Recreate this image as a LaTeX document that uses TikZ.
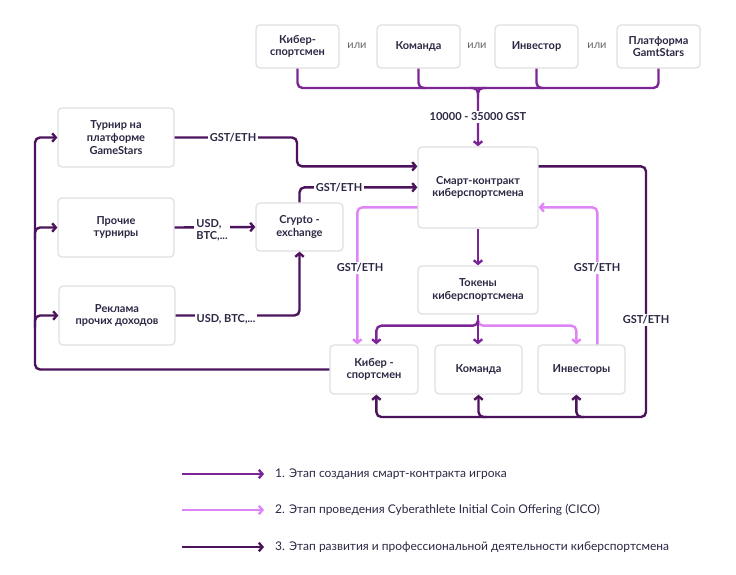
\documentclass[tikz,border=0pt]{standalone}
\usepackage{fontspec}
\setmainfont{Lato}
\usetikzlibrary{arrows.meta,calc}
\definecolor{cA}{RGB}{124,38,150}
\definecolor{cB}{RGB}{222,132,245}
\definecolor{cC}{RGB}{76,18,92}
\definecolor{txt}{RGB}{43,40,68}
\definecolor{bord}{RGB}{224,224,226}
\tikzset{
  box/.style={draw=bord, line width=1.3pt, fill=white, rounded corners=4pt, align=center,
     font=\fontsize{11}{12.7}\selectfont\bfseries, text=txt, inner sep=2pt},
  ar/.style={-{Straight Barb[length=3.6pt,width=8.5pt]}},
  sA/.style={draw=cA, line width=2.4pt, rounded corners=5pt},
  sB/.style={draw=cB, line width=2.4pt, rounded corners=5pt},
  sC/.style={draw=cC, line width=2.4pt, rounded corners=5pt},
  lbl/.style={fill=white, font=\fontsize{11}{12}\selectfont\bfseries, text=txt, inner sep=2pt, align=left},
  ili/.style={font=\fontsize{11}{12}\selectfont, text=black!60},
  leg/.style={anchor=west, font=\fontsize{12}{14}\selectfont, text=txt, inner sep=0pt}
}
\begin{document}
\begin{tikzpicture}[x=1pt,y=-1pt]
\useasboundingbox (0,0) rectangle (736,574);
% top row
\node[box, minimum width=83pt, minimum height=43pt] (k1) at (297.5,46.5) {Кибер-\\спортсмен};
\node[box, minimum width=83pt, minimum height=43pt] (k2) at (418.5,46.5) {Команда};
\node[box, minimum width=83pt, minimum height=43pt] (k3) at (536.5,46.5) {Инвестор};
\node[box, minimum width=83pt, minimum height=43pt] (k4) at (658.5,46.5) {Платформа\\GamtStars};
\node[ili] (o1) at (357,46) {или};
\node[ili] (o2) at (477,46) {или};
\node[ili] (o3) at (597,46) {или};
% left column
\node[box, minimum width=116pt, minimum height=59pt] (tur) at (116,137.5) {Турнир на\\платформе\\GameStars};
\node[box, minimum width=116pt, minimum height=59pt] (pro) at (116,227.5) {Прочие\\турниры};
\node[box, minimum width=116pt, minimum height=59pt] (rek) at (117,315.5) {Реклама\\прочих доходов};
\node[box, minimum width=87pt, minimum height=48pt] (cry) at (299.5,227) {Crypto -\\exchange};
% center
\node[box, minimum width=120pt, minimum height=81pt] (sc) at (478,187.5) {Смарт-контракт\\киберспортсмена};
\node[box, minimum width=120pt, minimum height=48pt] (tok) at (478,290) {Токены\\киберспортсмена};
\node[box, minimum width=88pt, minimum height=49pt] (kb) at (374,369.5) {Кибер -\\спортсмен};
\node[box, minimum width=87pt, minimum height=49pt] (km) at (478.5,369.5) {Команда};
\node[box, minimum width=87pt, minimum height=49pt] (inv) at (581.5,369.5) {Инвесторы};

\coordinate (brY) at (0,88);
\coordinate (bus) at (35,0);
\coordinate (loopC) at (646,417);

% stage 1 : bracket
\draw[sA] (k1.south) |- (k4.south |- brY) -- (k4.south);
\draw[sA] (k2.south) |- ($(k2.south |- brY)+(7,0)$);
\draw[sA] (k3.south) |- ($(k3.south |- brY)+(7,0)$);
\draw[sA,ar] ($(sc.north |- brY)+(-8,0)$) -| (sc.north);
\draw[sA] ($(sc.north |- brY)+(8,0)$) -| ($(sc.north |- brY)+(0,10)$);
% stage 1 : tokens
\draw[sB,ar] ($(tok.south)+(0,5)$) |- ($(tok.south)+(20,11)$) -| ($(inv.north west)+(39,0)$);
\draw[sA,ar] ($(tok.south)+(0,5)$) |- ($(tok.south)+(-20,11)$) -| ($(kb.north west)+(47,0)$);
\draw[sA,ar] (sc.south) -- (tok.north);
\draw[sA,ar] (tok.south) -- (tok.south |- km.north);

% stage 2
\draw[sB,ar] ($(sc.north west)+(0,61)$) -| ($(kb.north west)+(28,0)$);
\draw[sB,ar] ($(inv.north west)+(60,0)$) |- ($(sc.north east)+(0,61)$);

% stage 3
\draw[sC,ar] (kb.west) -| (bus |- tur.west) -- (tur.west);
\draw[sC,ar] ($(bus |- pro.west)+(0,12)$) |- (pro.west);
\draw[sC,ar] ($(bus |- rek.west)+(0,12)$) |- (rek.west);
\draw[sC,ar] (tur.east) -| (297,152) |- ($(sc.north west)+(0,20)$);
\draw[sC,ar] (pro.east) -- (cry.west);
\draw[sC,ar] (rek.east) -| (cry.south);
\draw[sC,ar] (cry.north) |- ($(sc.north west)+(0,41)$);
\draw[sC,ar] ($(sc.north east)+(0,20)$) -| (loopC) -| ($(kb.south west)+(47,0)$);
\draw[sC,ar] ($(km.south |- loopC)+(8,0)$) -| (km.south);
\draw[sC,ar] ($(inv.south west |- loopC)+(47,0)$) -| ($(inv.south west)+(39,0)$);

% labels
\node[lbl] (l0) at (478,117) {10000 - 35000 GST};
\node[lbl] (l1) at (233,137.5) {GST/ETH};
\node[lbl] (l2) at (212,230) {USD,\\BTC,...};
\node[lbl] (l3) at (226,319) {USD, BTC,...};
\node[lbl] (l4) at (339,188) {GST/ETH};
\node[lbl] (l5) at (360,268) {GST/ETH};
\node[lbl] (l6) at (597,268) {GST/ETH};
\node[lbl] (l7) at (646,320) {GST/ETH};

% legend
\coordinate (a1) at (182,474); \coordinate (b1) at (264,474);
\coordinate (a2) at (182,510); \coordinate (b2) at (264,510);
\coordinate (a3) at (182,547); \coordinate (b3) at (264,547);
\draw[sA,ar] (a1) -- (b1);
\draw[sB,ar] (a2) -- (b2);
\draw[sC,ar] (a3) -- (b3);
\node[leg] (t1) at (275,474) {1. Этап создания смарт-контракта игрока};
\node[leg] (t2) at (275,510) {2. Этап проведения Cyberathlete Initial Coin Offering (CICO)};
\node[leg] (t3) at (275,547) {3. Этап развития и профессиональной деятельности киберспортсмена};
\end{tikzpicture}
\end{document}
